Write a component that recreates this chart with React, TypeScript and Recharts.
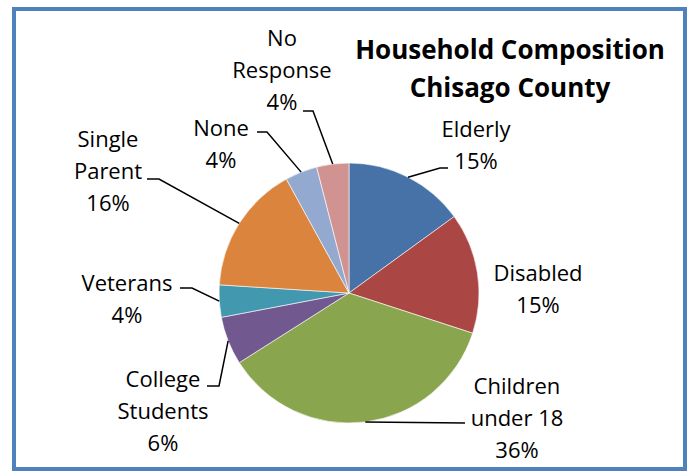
import React from "react";
import { PieChart, Pie, Cell } from "recharts";

// slices, clockwise from 12 o'clock
const categories = [
  "Elderly",
  "Disabled",
  "Children under 18",
  "College Students",
  "Veterans",
  "Single Parent",
  "None",
  "No Response",
];
const percents = [15, 15, 36, 6, 4, 16, 4, 4];
const labelLines = [
  ["Elderly"],
  ["Disabled"],
  ["Children", "under 18"],
  ["College", "Students"],
  ["Veterans"],
  ["Single", "Parent"],
  ["None"],
  ["No", "Response"],
];
const colors = [
  "#4672A8",
  "#AA4644",
  "#89A54E",
  "#71588F",
  "#4198AF",
  "#DB843D",
  "#93A9CF",
  "#D19392",
];

// label block placement relative to pie centre (x centre, first line centre)
// and leader line elbow / end, all hand placed like the excel original
const labelPos = [
  { tx: 127, ty: -165, elbow: [91, -125], end: [99, -125] },
  { tx: 189, ty: -21, elbow: null, end: null },
  { tx: 168, ty: 92, elbow: [116, 130], end: [116, 130] },
  { tx: -186, ty: 85, elbow: [-130, 93], end: [-142, 93] },
  { tx: -222, ty: -11, elbow: [-157, -5], end: [-169, -5] },
  { tx: -241, ty: -155, elbow: [-190, -114], end: [-202, -114] },
  { tx: -128, ty: -166, elbow: [-82, -161], end: [-92, -161] },
  { tx: -67, ty: -256, elbow: [-36, -182], end: [-46, -182] },
];

const data = categories.map((name, i) => ({ name, value: percents[i] }));

const FONT = "'Open Sans', Lato, sans-serif";
const RAD = Math.PI / 180;

function renderLabel(props: any) {
  const { cx, cy, midAngle, outerRadius, index, value } = props;
  const pos = labelPos[index];
  const lines = [...labelLines[index], `${value}%`];
  const sx = cx + outerRadius * Math.cos(-midAngle * RAD);
  const sy = cy + outerRadius * Math.sin(-midAngle * RAD);
  const lineH = 32;
  return (
    <g key={`lbl-${index}`}>
      {pos.elbow && (
        <polyline
          points={`${sx},${sy} ${cx + pos.elbow[0]},${cy + pos.elbow[1]} ${cx + pos.end[0]},${cy + pos.end[1]}`}
          fill="none"
          stroke="#000"
          strokeWidth={1.5}
        />
      )}
      {lines.map((t, k) => (
        <text
          key={k}
          x={cx + pos.tx}
          y={cy + pos.ty + k * lineH}
          textAnchor="middle"
          dominantBaseline="central"
          fontFamily={FONT}
          fontSize={22}
          fill="#000"
        >
          {t}
        </text>
      ))}
    </g>
  );
}

export default function App() {
  return (
    <div
      style={{
        position: "absolute",
        left: 0,
        top: 0,
        width: 690,
        height: 472,
        background: "#fff",
      }}
    >
      <div
        style={{
          position: "absolute",
          left: 12,
          top: 7,
          width: 675,
          height: 464,
          boxSizing: "border-box",
          border: "4px solid #4F81BD",
        }}
      />
      <div
        style={{
          position: "absolute",
          left: 340,
          top: 30,
          width: 340,
          textAlign: "center",
          fontFamily: FONT,
          fontWeight: 700,
          fontSize: 26,
          lineHeight: "38px",
          color: "#000",
        }}
      >
        Household Composition
        <br />
        Chisago County
      </div>
      <div style={{ position: "absolute", left: 0, top: 0 }}>
        <PieChart
          width={690}
          height={472}
          margin={{ top: 0, right: 0, bottom: 0, left: 0 }}
        >
          <Pie
            data={data}
            dataKey="value"
            nameKey="name"
            cx={349}
            cy={293}
            outerRadius={130}
            startAngle={90}
            endAngle={-270}
            stroke="#ffffff"
            strokeWidth={0.6}
            label={renderLabel}
            labelLine={false}
            isAnimationActive={false}
          >
            {data.map((d, i) => (
              <Cell key={d.name} fill={colors[i]} />
            ))}
          </Pie>
        </PieChart>
      </div>
    </div>
  );
}
